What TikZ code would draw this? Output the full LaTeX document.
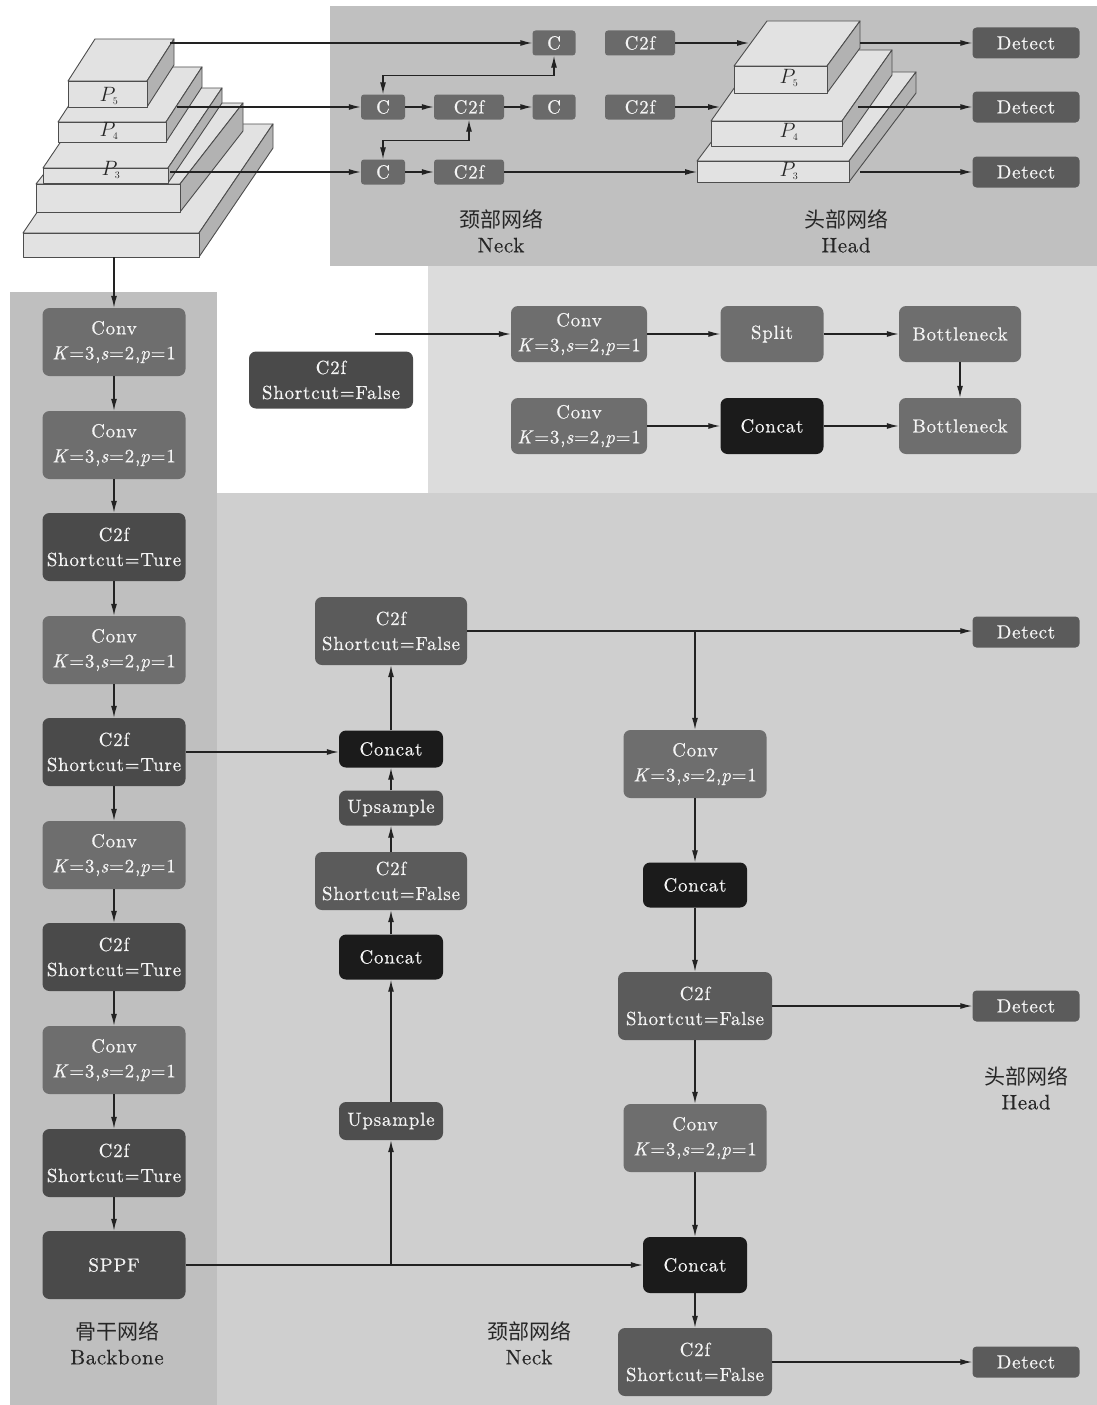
\documentclass[tikz,border=0pt]{standalone}
\usepackage{fontspec}
\newfontfamily\cjk{Noto Sans CJK SC}
\newfontfamily\boxfont{lmroman10-regular.otf}[ItalicFont=lmroman10-italic.otf, LetterSpace=4, FakeBold=0.5]
\newfontfamily\lblfont{lmroman10-regular.otf}[LetterSpace=3, FakeBold=0.3]
\usetikzlibrary{arrows.meta,calc}
\definecolor{gTop}{HTML}{C0C0C0}
\definecolor{gMid}{HTML}{DCDCDC}
\definecolor{gBot}{HTML}{CFCFCF}
\definecolor{gBB}{HTML}{BFBFBF}
\definecolor{cConv}{HTML}{6E6E6E}
\definecolor{cDark}{HTML}{4A4A4A}
\definecolor{cNeck}{HTML}{5B5B5B}
\definecolor{cUps}{HTML}{4E4E4E}
\definecolor{cCat}{HTML}{1B1B1B}
\definecolor{cSmall}{HTML}{6A6A6A}
\definecolor{cLine}{HTML}{222222}
\definecolor{cFace}{HTML}{E2E2E2}
\definecolor{cSide}{HTML}{B2B2B2}
\definecolor{cEdge}{HTML}{4D4D4D}
\definecolor{cTxt}{HTML}{F4F4F4}
\newcommand\pyrslab[6]{%
  \filldraw[pface] (#1,#2) -- (#3,#2) -- ({#3+#5},{#2-#6}) -- ({#1+#5},{#2-#6}) -- cycle;
  \filldraw[pside] (#3,#2) -- ({#3+#5},{#2-#6}) -- ({#3+#5},{#4-#6}) -- (#3,#4) -- cycle;
  \filldraw[pface] (#1,#2) rectangle (#3,#4);
}
\begin{document}
\begin{tikzpicture}[x=1pt,y=-1pt,
  box/.style={rounded corners=7pt, text=cTxt, align=center, inner sep=0pt,
    font=\boxfont\fontsize{19}{25}\selectfont},
  convbox/.style={box, fill=cConv, minimum width=143pt, minimum height=68pt},
  darkbox/.style={box, fill=cDark, minimum width=143pt, minimum height=68pt},
  neckbox/.style={box, fill=cNeck, minimum width=152pt, minimum height=68pt},
  catbox/.style={box, fill=cCat, minimum width=104pt},
  upsbox/.style={box, fill=cUps, minimum width=104pt},
  detbox/.style={box, rounded corners=4pt, fill=cNeck, minimum width=107pt, minimum height=31pt},
  smbox/.style={box, rounded corners=3pt, fill=cSmall, minimum height=25pt},
  midbox/.style={box, fill=cConv, minimum height=56pt},
  lbl/.style={align=center, text=black!85, font=\lblfont\fontsize{21}{25}\selectfont},
  plbl/.style={font=\fontsize{20}{20}\selectfont, text=black!85},
  pface/.style={fill=cFace, draw=cEdge, line width=0.9pt, line join=round},
  pside/.style={fill=cSide, draw=cEdge, line width=0.9pt, line join=round},
  arr/.style={draw=cLine, line width=1.3pt, -{Latex[length=12pt,width=6pt]}},
  darr/.style={draw=cLine, line width=1.3pt, {Latex[length=12pt,width=6pt]}-{Latex[length=12pt,width=6pt]}},
  ln/.style={draw=cLine, line width=1.3pt}
]
\useasboundingbox (0,0) rectangle (1097,1405);
% backgrounds
\fill[white] (0,0) rectangle (1097,1405);
\fill[gTop] (330,6) rectangle (1097,266);
\fill[gMid] (428,266) rectangle (1097,493);
\fill[gBot] (217,493) rectangle (1097,1405);
\fill[gBB] (10,292) rectangle (217,1405);

% left pyramid
\pyrslab{23}{233}{199}{257}{74}{109}
\pyrslab{36}{184}{180}{212}{63}{81}
\pyrslab{43}{168}{168}{183}{54}{80}
\pyrslab{58}{122}{166}{142}{36}{55}
\pyrslab{68}{81}{147}{107}{27}{42}
\node[plbl] at (109,96) {$P_{\scriptscriptstyle 5}$};
\node[plbl] at (109,131) {$P_{\scriptscriptstyle 4}$};
\node[plbl] at (111,170) {$P_{\scriptscriptstyle 3}$};

% head pyramid
\pyrslab{697}{161}{849}{182}{67}{89}
\pyrslab{711}{121}{842}{146}{50}{71}
\pyrslab{734}{66}{827}{93}{33}{45}
\node[plbl] at (789,78) {$P_{\scriptscriptstyle 5}$};
\node[plbl] at (789,132) {$P_{\scriptscriptstyle 4}$};
\node[plbl] at (789,171) {$P_{\scriptscriptstyle 3}$};

\coordinate (pyA) at (170,43);
\coordinate (pyB) at (177,107);
\coordinate (pyC) at (170,172);
\coordinate (pyD) at (114,257);
\coordinate (hA) at (749,43);
\coordinate (hB) at (720,107);
\coordinate (hC) at (697,172);
\coordinate (hoA) at (860,43);
\coordinate (hoB) at (858,107);
\coordinate (hoC) at (860,172);

% top neck nodes
\node[smbox, minimum width=43pt] (nC1) at (554,43) {C};
\node[smbox, minimum width=70pt] (nF1) at (640,43) {C2f};
\node[smbox, minimum width=44pt] (nC2) at (383,107) {C};
\node[smbox, minimum width=70pt] (nF2) at (469,107) {C2f};
\node[smbox, minimum width=43pt] (nC3) at (554,107) {C};
\node[smbox, minimum width=70pt] (nF3) at (640,107) {C2f};
\node[smbox, minimum width=44pt] (nC4) at (383,172) {C};
\node[smbox, minimum width=70pt] (nF4) at (469,172) {C2f};
\node[detbox] (dA) at (1026,43) {Detect};
\node[detbox] (dB) at (1026,107) {Detect};
\node[detbox] (dC) at (1026,172) {Detect};

\draw[arr] (pyA) -- (nC1);
\draw[arr] (pyB) -- (nC2);
\draw[arr] (nC2) -- (nF2);
\draw[arr] (nF2) -- (nC3);
\draw[arr] (pyC) -- (nC4);
\draw[arr] (nC4) -- (nF4);
\draw[arr] (nF4) -- (hC);
\draw[darr] (nC2.north) -- ++(0,-19) -| (nC1.south);
\draw[darr] (nC4.north) -- ++(0,-19) -| (nF2.south);
\draw[arr] (nF1) -- (hA);
\draw[arr] (nF3) -- (hB);
\draw[arr] (hoA) -- (dA);
\draw[arr] (hoB) -- (dB);
\draw[arr] (hoC) -- (dC);

\node[lbl] at (501,231) {{\cjk 颈部网络}\\Neck};
\node[lbl] at (846,231) {{\cjk 头部网络}\\Head};

% C2f detail
\coordinate (mIn) at (375,334);
\node[darkbox, minimum width=164pt, minimum height=57pt] (mC2f) at (331,380) {C2f\\Shortcut=False};
\node[midbox, minimum width=136pt] (mConv1) at (579,334) {Conv\\\textit{K}=3,\textit{s}=2,\textit{p}=1};
\node[midbox, minimum width=103pt] (mSplit) at (772,334) {Split};
\node[midbox, minimum width=122pt] (mB1) at (960,334) {Bottleneck};
\node[midbox, minimum width=136pt] (mConv2) at (579,426) {Conv\\\textit{K}=3,\textit{s}=2,\textit{p}=1};
\node[midbox, fill=cCat, minimum width=103pt] (mCat) at (772,426) {Concat};
\node[midbox, minimum width=122pt] (mB2) at (960,426) {Bottleneck};
\draw[arr] (mIn) -- (mConv1);
\draw[arr] (mConv1) -- (mSplit);
\draw[arr] (mSplit) -- (mB1);
\draw[arr] (mB1) -- (mB2);
\draw[arr] (mConv2) -- (mCat);
\draw[arr] (mCat) -- (mB2);

% backbone
\node[convbox] (b1) at (114,342) {Conv\\\textit{K}=3,\textit{s}=2,\textit{p}=1};
\node[convbox] (b2) at (114,445) {Conv\\\textit{K}=3,\textit{s}=2,\textit{p}=1};
\node[darkbox] (b3) at (114,547) {C2f\\Shortcut=Ture};
\node[convbox] (b4) at (114,650) {Conv\\\textit{K}=3,\textit{s}=2,\textit{p}=1};
\node[darkbox] (b5) at (114,752) {C2f\\Shortcut=Ture};
\node[convbox] (b6) at (114,855) {Conv\\\textit{K}=3,\textit{s}=2,\textit{p}=1};
\node[darkbox] (b7) at (114,957) {C2f\\Shortcut=Ture};
\node[convbox] (b8) at (114,1060) {Conv\\\textit{K}=3,\textit{s}=2,\textit{p}=1};
\node[darkbox] (b9) at (114,1163) {C2f\\Shortcut=Ture};
\node[darkbox] (b10) at (114,1265) {SPPF};
\draw[arr] (pyD) -- (b1);
\foreach \a/\b in {b1/b2,b2/b3,b3/b4,b4/b5,b5/b6,b6/b7,b7/b8,b8/b9,b9/b10}
  \draw[arr] (\a) -- (\b);
\node[lbl] at (117,1343) {{\cjk 骨干网络}\\Backbone};

% neck (bottom)
\node[neckbox] (n1) at (391,631) {C2f\\Shortcut=False};
\node[catbox, minimum height=37pt] (n2) at (391,749) {Concat};
\node[upsbox, minimum height=35pt] (n3) at (391,808) {Upsample};
\node[neckbox, minimum height=58pt] (n4) at (391,881) {C2f\\Shortcut=False};
\node[catbox, minimum height=45pt] (n5) at (391,957) {Concat};
\node[upsbox, minimum height=38pt] (n6) at (391,1121) {Upsample};

\node[convbox] (r1) at (695,764) {Conv\\\textit{K}=3,\textit{s}=2,\textit{p}=1};
\node[catbox, minimum height=45pt] (r2) at (695,885) {Concat};
\node[neckbox, minimum width=154pt] (r3) at (695,1006) {C2f\\Shortcut=False};
\node[convbox] (r4) at (695,1138) {Conv\\\textit{K}=3,\textit{s}=2,\textit{p}=1};
\node[catbox, minimum height=56pt] (r5) at (695,1265) {Concat};
\node[neckbox, minimum width=154pt] (r6) at (695,1362) {C2f\\Shortcut=False};

\node[detbox] (d4) at (1026,632) {Detect};
\node[detbox] (d5) at (1026,1006) {Detect};
\node[detbox] (d6) at (1026,1362) {Detect};

\draw[arr] (b5.east) -- (b5.east -| n2.west);
\draw[arr] (b10) -- (r5);
\draw[arr] (b10 -| n6) -- (n6);
\draw[arr] (n6) -- (n5);
\draw[arr] (n5) -- (n4);
\draw[arr] (n4) -- (n3);
\draw[arr] (n3) -- (n2);
\draw[arr] (n2) -- (n1);
\draw[arr] (n1.east) -- (n1.east -| d4.west);
\draw[arr] (n1.east -| r1) -- (r1);
\draw[arr] (r1) -- (r2);
\draw[arr] (r2) -- (r3);
\draw[arr] (r3) -- (d5);
\draw[arr] (r3) -- (r4);
\draw[arr] (r4) -- (r5);
\draw[arr] (r5) -- (r6);
\draw[arr] (r6) -- (d6);

\node[lbl] at (529,1343) {{\cjk 颈部网络}\\Neck};
\node[lbl] at (1026,1088) {{\cjk 头部网络}\\Head};
\end{tikzpicture}
\end{document}
